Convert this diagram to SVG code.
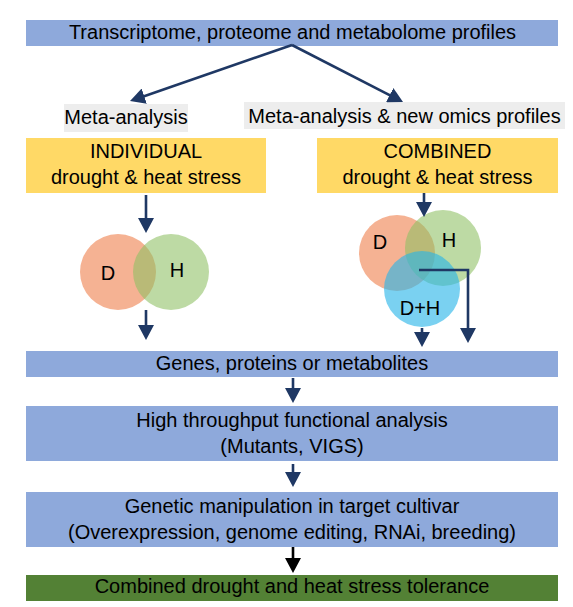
<svg xmlns="http://www.w3.org/2000/svg" width="573" height="607" viewBox="0 0 573 607">
<style>
text{font-family:"Liberation Sans",Arial,sans-serif;font-size:20px;fill:#000;text-anchor:middle}
.bar{fill:#8EA9DB}
.yel{fill:#FFD966}
.gray{fill:#EDEDED}
.conn{stroke:#1F3864;stroke-width:2.6;fill:none}
.blk{stroke:#000;stroke-width:2.6;fill:none}
.d{fill:#EE7B45;fill-opacity:0.58}
.h{fill:#8DC063;fill-opacity:0.58}
.dh{fill:#29B5E8;fill-opacity:0.62}
</style>
<defs>
<marker id="ah" markerUnits="userSpaceOnUse" markerWidth="16" markerHeight="16" refX="7" refY="8" orient="auto">
<path d="M0,0 L15,8 L0,16 z" fill="#1F3864"/>
</marker>
<marker id="ahk" markerUnits="userSpaceOnUse" markerWidth="16" markerHeight="16" refX="7" refY="8" orient="auto">
<path d="M0,0 L15,8 L0,16 z" fill="#000"/>
</marker>
</defs>
<rect width="573" height="607" fill="#fff"/>
<g id="profiles"><rect class="bar" x="26" y="20" width="532" height="26"/><text x="292.5" y="39">Transcriptome, proteome and metabolome profiles</text></g>
<g id="meta1"><rect class="gray" x="64" y="104" width="124" height="28"/><text x="126" y="124">Meta-analysis</text></g>
<g id="meta2"><rect class="gray" x="244" y="102" width="321" height="27"/><text x="404.5" y="123">Meta-analysis &amp; new omics profiles</text></g>
<g id="individual"><rect class="yel" x="26" y="138" width="240" height="55"/><text x="146" y="158">INDIVIDUAL</text><text x="146" y="184">drought &amp; heat stress</text></g>
<g id="combined"><rect class="yel" x="317" y="138" width="241" height="55"/><text x="437.5" y="158">COMBINED</text><text x="437.5" y="184">drought &amp; heat stress</text></g>
<g id="venn-individual">
<circle class="d" cx="118" cy="272" r="38"/>
<circle class="h" cx="171" cy="272" r="38"/>
<text x="108" y="280">D</text><text x="177" y="277">H</text>
</g>
<g id="venn-combined">
<circle class="d" cx="397" cy="253" r="38"/>
<circle class="h" cx="443" cy="248" r="38"/>
<circle class="dh" cx="422" cy="289" r="38"/>
<text x="380" y="249">D</text><text x="449" y="247">H</text><text x="420" y="315">D+H</text>
</g>
<g id="genes"><rect class="bar" x="26" y="351" width="532" height="26"/><text x="292" y="370">Genes, proteins or metabolites</text></g>
<g id="htfa"><rect class="bar" x="26" y="406" width="532" height="55"/><text x="292" y="427">High throughput functional analysis</text><text x="292" y="453">(Mutants, VIGS)</text></g>
<g id="genetic"><rect class="bar" x="26" y="492" width="532" height="55"/><text x="292" y="513">Genetic manipulation in target cultivar</text><text x="292" y="539">(Overexpression, genome editing, RNAi, breeding)</text></g>
<g id="tolerance"><rect x="26" y="575" width="532" height="26" fill="#538135"/><text x="292" y="593">Combined drought and heat stress tolerance</text></g>
<g id="connectors">
<path class="conn" d="M292,45 L137.6,98.4" marker-end="url(#ah)"/>
<path class="conn" d="M292,45 L395.9,98.3" marker-end="url(#ah)"/>
<path class="conn" d="M146,195 V225" marker-end="url(#ah)"/>
<path class="conn" d="M146,310 V332" marker-end="url(#ah)"/>
<path class="conn" d="M424,193 V209" marker-end="url(#ah)"/>
<path class="conn" d="M422,328 V339" marker-end="url(#ah)"/>
<path class="conn" d="M419,270 H468 V335" marker-end="url(#ah)"/>
<path class="conn" d="M293,378 V395" marker-end="url(#ah)"/>
<path class="conn" d="M293,464 V479" marker-end="url(#ah)"/>
<path class="blk" d="M293,547 V565" marker-end="url(#ahk)"/>
</g>
</svg>
